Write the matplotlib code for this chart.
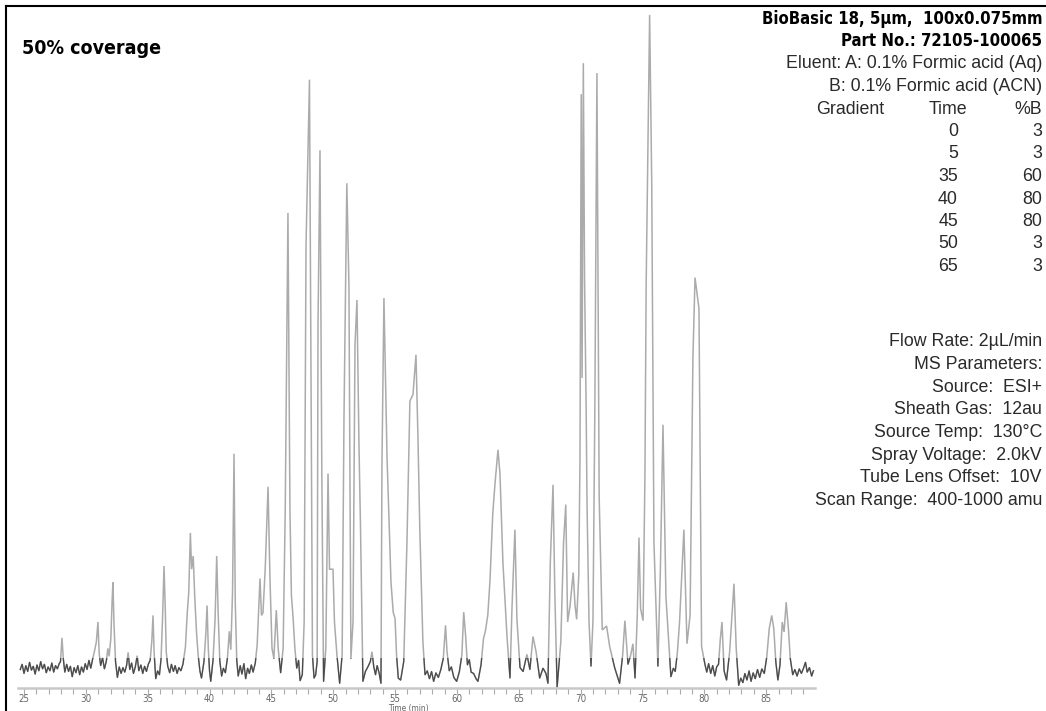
import os
import matplotlib
matplotlib.use("Agg")
import matplotlib.pyplot as plt
from matplotlib.patches import Rectangle
from matplotlib.lines import Line2D
from matplotlib.ticker import MultipleLocator
from matplotlib import font_manager
from matplotlib.font_manager import FontProperties

# chromatogram trace (time in min, relative intensity in %)
time_min = [
    24.70, 24.85, 25.00, 25.15, 25.30, 25.45, 25.60, 25.75, 25.90, 26.05, 26.20, 26.35,
    26.50, 26.65, 26.80, 26.95, 27.10, 27.25, 27.40, 27.55, 27.70, 27.85,
    27.95, 28.07, 28.18, 28.30, 28.45, 28.60, 28.75, 28.90, 29.05, 29.20, 29.35, 29.50,
    29.65, 29.80, 29.95, 30.10, 30.25, 30.40,
    30.55, 30.70, 30.85, 30.98, 31.08, 31.20, 31.35, 31.50, 31.65, 31.78, 31.88,
    32.02, 32.12, 32.19, 32.28, 32.40, 32.55, 32.70, 32.85, 33.00, 33.15,
    33.30, 33.42, 33.55, 33.70, 33.85, 34.00, 34.15, 34.28, 34.45, 34.60, 34.75, 34.90, 35.05,
    35.20, 35.33, 35.43, 35.52, 35.65, 35.80, 35.95,
    36.08, 36.20, 36.32, 36.42, 36.50, 36.62, 36.78, 36.92, 37.08, 37.22, 37.38, 37.52, 37.68,
    37.85, 38.05, 38.20, 38.32, 38.45, 38.55, 38.68, 38.80, 38.95, 39.08, 39.22, 39.35,
    39.55, 39.70, 39.80, 39.90, 40.00, 40.10,
    40.28, 40.45, 40.58, 40.70, 40.83, 40.98, 41.12, 41.28,
    41.45, 41.60, 41.72, 41.86, 41.98, 42.08, 42.20, 42.32,
    42.48, 42.62, 42.78, 42.92, 43.08, 43.22, 43.38, 43.52, 43.70,
    43.85, 43.98, 44.08, 44.20, 44.32, 44.50, 44.73, 44.88, 45.05, 45.20, 45.40, 45.55, 45.75,
    45.95, 46.12, 46.34, 46.50, 46.62, 46.75, 46.90, 47.05, 47.20, 47.32,
    47.50, 47.65, 47.80, 48.08, 48.20, 48.32, 48.45, 48.58,
    48.70, 48.77, 48.93, 49.08, 49.22,
    49.40, 49.58, 49.70, 49.98, 50.10, 50.30, 50.52,
    50.72, 50.87, 51.10, 51.27, 51.43,
    51.60, 51.76, 51.92, 52.08, 52.20, 52.40,
    52.60, 52.80, 53.00, 53.13, 53.28, 53.42, 53.55, 53.72, 53.86,
    53.94, 54.10, 54.35, 54.50, 54.67, 54.85, 55.00, 55.12, 55.26, 55.45,
    55.70, 55.96, 56.20, 56.45, 56.69, 56.85, 57.00, 57.25, 57.42,
    57.60, 57.78, 57.95, 58.12, 58.30, 58.50, 58.70,
    58.90, 59.08, 59.20, 59.38, 59.55, 59.75, 59.98,
    60.20, 60.40, 60.55, 60.70, 60.85, 61.00, 61.15, 61.35, 61.55, 61.70,
    61.95, 62.15, 62.30, 62.50, 62.68, 62.90, 63.08, 63.32, 63.48, 63.72, 64.05, 64.29,
    64.45, 64.69, 64.85, 65.10, 65.35, 65.66, 65.90, 66.15, 66.40, 66.69, 66.96, 67.20, 67.36,
    67.55, 67.77, 67.92, 68.10,
    68.40, 68.62, 68.80, 68.95, 69.15, 69.40, 69.55, 69.68,
    69.85, 69.95, 70.05, 70.12, 70.22, 70.32, 70.45, 70.52, 70.68, 70.84,
    71.00, 71.15, 71.32, 71.50, 71.75, 72.10, 72.35, 72.75, 73.15,
    73.40, 73.58, 73.83, 74.05, 74.23, 74.40,
    74.58, 74.72, 74.85, 75.05, 75.20, 75.30, 75.58, 75.75, 75.93, 76.25,
    76.45, 76.66, 76.90, 77.30, 77.50, 77.65, 77.82, 78.00, 78.35, 78.60, 78.85, 79.08,
    79.25, 79.57, 79.78, 80.05,
    80.20, 80.35, 80.52, 80.68, 80.85, 81.00,
    81.15, 81.30, 81.43, 81.60, 81.80,
    82.05, 82.22, 82.40, 82.58, 82.78,
    82.95, 83.12, 83.28, 83.45, 83.62, 83.78, 83.95, 84.12, 84.30, 84.48, 84.65, 84.85,
    85.05, 85.25, 85.45, 85.62, 85.78, 85.95,
    86.12, 86.30, 86.45, 86.62, 86.80, 86.95, 87.15,
    87.32, 87.50, 87.68, 87.85, 88.02, 88.18, 88.32, 88.50, 88.68, 88.82,
]

intensity = [
    0.8, 1.6, 0.2, 1.4, 0.5, 1.9, 0.7, 1.3, 0.1, 1.5, 0.6, 2.0,
    0.9, 1.6, 0.3, 1.2, 0.6, 1.8, 0.4, 1.4, 0.9, 1.7,
    2.0, 5.6, 2.4, 0.4, 1.6, 0.5, 1.3, -0.3, 1.1, 0.3, 1.4, 0.0,
    1.2, 0.4, 1.7, 0.8, 2.2, 1.0,
    2.4, 3.6, 5.0, 8.0, 3.2, 1.4, 2.6, 0.9, 2.0, 4.0, 2.8,
    5.5, 11.0, 14.0, 7.5, 2.0, -0.4, 1.2, 0.2, 1.1, 0.4,
    1.5, 3.4, 0.8, 1.8, 0.2, 1.2, 2.9, 0.6, 1.5, 0.2, 1.3, 0.5, 1.6,
    2.2, 5.0, 9.0, 3.4, -0.6, 0.6, 0.0,
    2.4, 8.5, 16.5, 10.0, 3.5, 1.3, 0.3, 1.6, 0.5, 1.4, 0.2, 1.1, 0.6,
    1.6, 4.2, 9.4, 12.5, 21.5, 16.0, 18.0, 12.0, 6.3, 3.0, 0.6, -0.5,
    2.0, 6.2, 10.5, 4.0, 0.6, -1.0,
    2.2, 8.5, 18.0, 9.2, 2.1, -0.2, 1.0, 0.3,
    2.6, 6.6, 3.8, 12.5, 33.5, 11.0, 2.2, -0.2,
    1.4, 0.1, 1.7, -0.6, 1.0, 0.2, 1.5, 0.4, 1.8,
    4.5, 10.0, 14.6, 9.0, 9.4, 16.0, 28.5, 15.0, 4.0, 2.5, 9.8, 4.0, 0.3,
    4.0, 25.0, 70.0, 25.0, 12.0, 8.8, 4.0, 1.0, 2.2, -0.9,
    0.0, 8.0, 65.0, 90.2, 45.0, 3.0, -0.5, 0.0,
    2.0, 53.0, 79.5, 30.0, -1.0,
    4.0, 30.5, 16.0, 16.0, 8.0, 3.0, -1.3,
    3.0, 39.0, 74.5, 59.0, 2.5,
    8.0, 50.0, 56.8, 35.0, 23.0, -1.0,
    0.5, 1.2, 2.0, 3.5, 1.2, 0.0, 1.4, 0.2, -1.3,
    32.0, 57.1, 33.0, 24.0, 14.0, 9.5, 8.5, 3.0, -0.5, -0.8,
    2.0, 20.0, 41.5, 42.5, 48.5, 36.0, 22.0, 5.0, 0.0,
    0.6, -0.6, 0.5, -1.0, 0.3, -0.4, 0.8,
    2.5, 7.5, 3.5, 0.6, 1.2, -0.4, -1.0,
    0.5, 3.0, 9.5, 6.0, 1.5, 2.3, 0.4, 0.2, -0.6, -1.0,
    1.5, 5.5, 6.6, 9.1, 14.5, 24.5, 29.0, 34.1, 30.5, 17.0, 5.8, -0.5,
    10.0, 22.0, 8.5, 1.1, 0.5, 3.1, 0.8, 5.8, 3.5, -0.5, 1.0, 0.2, -1.3,
    17.0, 28.8, 12.0, -1.9,
    5.0, 20.0, 25.8, 8.0, 10.5, 15.5, 10.5, 8.4,
    15.0, 32.8, 88.0, 45.0, 92.7, 60.0, 40.0, 25.7, 8.0, 1.3,
    8.2, 40.0, 91.2, 27.0, 6.8, 7.4, 4.3, 1.1, -1.3,
    3.0, 8.2, 1.6, 3.0, 4.7, -0.5,
    9.0, 20.8, 10.0, 8.2, 30.0, 59.2, 100.0, 74.6, 20.0, 1.3,
    16.0, 37.9, 11.8, -0.3, 1.0, 0.5, 3.3, 8.0, 22.0, 4.7, 9.0, 48.0,
    60.2, 55.5, 4.3, 1.6,
    0.4, 1.7, 0.2, 1.4, -0.2, 1.2,
    1.6, 5.5, 8.0, 0.6, -0.8,
    3.5, 8.5, 13.8, 4.0, -1.6,
    -0.5, -1.2, 0.2, -0.8, 0.6, -1.0, 0.3, -0.6, 0.8, -0.4, 0.9, 0.2,
    2.7, 7.0, 9.0, 7.0, 2.0, -0.8,
    1.5, 8.0, 6.5, 11.0, 7.0, 2.5, 0.0,
    0.8, -0.2, 0.9, 0.2, 1.0, 1.9, 0.4, 1.1, -0.2, 0.6,
]

major_ticks = [25, 30, 35, 40, 45, 50, 55, 60, 65, 70, 75, 80, 85]

title_text = "50% coverage"
column_lines = ["BioBasic 18, 5µm,  100x0.075mm", "Part No.: 72105-100065"]
eluent_lines = ["Eluent: A: 0.1% Formic acid (Aq)", "B: 0.1% Formic acid (ACN)"]
gradient_time = ["0", "5", "35", "40", "45", "50", "65"]
gradient_pct_b = ["3", "3", "60", "80", "80", "3", "3"]
ms_lines = [
    "Flow Rate: 2µL/min",
    "MS Parameters:",
    "Source:  ESI+",
    "Sheath Gas:  12au",
    "Source Temp:  130°C",
    "Spray Voltage:  2.0kV",
    "Tube Lens Offset:  10V",
    "Scan Range:  400-1000 amu",
]


def pick_font(file_prefixes):
    files = {os.path.basename(f.fname): f.fname for f in font_manager.fontManager.ttflist}
    for pre in file_prefixes:
        for name in sorted(files):
            if name.startswith(pre):
                return files[name]
    return None


bold_file = pick_font(["LiberationSansNarrow-Bold.", "NotoSans-CondensedBold.",
                       "DejaVuSansCondensed-Bold.", "RobotoCondensed-Bold."])
reg_file = pick_font(["LiberationSansNarrow-Regular.", "NotoSans-Condensed.",
                      "DejaVuSansCondensed.", "RobotoCondensed-Regular."])

if bold_file:
    head_font = FontProperties(fname=bold_file, size=12)
    title_font = FontProperties(fname=bold_file, size=14)
else:
    head_font = FontProperties(family="Roboto", weight="bold", size=11)
    title_font = FontProperties(family="Roboto", weight="bold", size=13)
if reg_file:
    small_font = FontProperties(fname=reg_file, size=7)
else:
    small_font = FontProperties(family="Roboto", size=6.5)
label_font = small_font.copy()
label_font.set_size(6)

W, H = 1046, 711
fig = plt.figure(figsize=(W / 100, H / 100), dpi=100)

# axes placed in pixel terms of the original layout
ax = fig.add_axes([18 / W, 1 - 688 / H, (815 - 18) / W, (688 - 8) / H])
ax.set_xlim(24.515, 88.95)
ax.set_ylim(-2.0, 101.06)

ax.plot(time_min, intensity, color="#ababab", lw=1.1, solid_joinstyle="miter")
low = ax.plot(time_min, intensity, color="#4a4a4a", lw=0.9)[0]
low.set_clip_path(Rectangle((20, -5), 80, 7.5, transform=ax.transData))

for s in ["top", "right", "left"]:
    ax.spines[s].set_visible(False)
ax.spines["bottom"].set_color("#c8c8c8")
ax.spines["bottom"].set_linewidth(1.8)
ax.set_yticks([])
ax.set_xticks(major_ticks)
ax.xaxis.set_minor_locator(MultipleLocator(1))
ax.tick_params(axis="x", which="both", direction="out", length=4, width=0.8,
               color="#aaaaaa", labelcolor="#666666", pad=0.5)
for lab in ax.get_xticklabels():
    lab.set_fontproperties(small_font)
fig.text(408 / W, 1 - 708.5 / H, "Time (min)", ha="center", va="center",
         color="#666666", fontproperties=label_font)

# frame lines at the left and top of the picture
fig.add_artist(Line2D([6 / W, 6 / W], [0, 1 - 6 / H], color="black", lw=1.5))
fig.add_artist(Line2D([6 / W, 1], [1 - 6 / H, 1 - 6 / H], color="black", lw=1.5))

fig.text(22 / W, 1 - 48 / H, title_text, ha="left", va="center",
         fontproperties=title_font, color="black")

xr = 1042 / W
y = 19
for line in column_lines:
    fig.text(xr, 1 - y / H, line, ha="right", va="center",
             fontproperties=head_font, color="black")
    y += 22.5

txt = dict(va="center", fontsize=12.8, family="Liberation Sans", color="#2a2a2a")
for line in eluent_lines:
    fig.text(xr, 1 - y / H, line, ha="right", **txt)
    y += 22.5

fig.text(884 / W, 1 - y / H, "Gradient", ha="right", **txt)
fig.text(967 / W, 1 - y / H, "Time", ha="right", **txt)
fig.text(xr, 1 - y / H, "%B", ha="right", **txt)
y += 22.5
for t, b in zip(gradient_time, gradient_pct_b):
    fig.text(958 / W, 1 - y / H, t, ha="right", **txt)
    fig.text(xr, 1 - y / H, b, ha="right", **txt)
    y += 22.5

y = 342
for line in ms_lines:
    fig.text(xr, 1 - y / H, line, ha="right", **txt)
    y += 22.6

fig.savefig("out.png", dpi=100)
